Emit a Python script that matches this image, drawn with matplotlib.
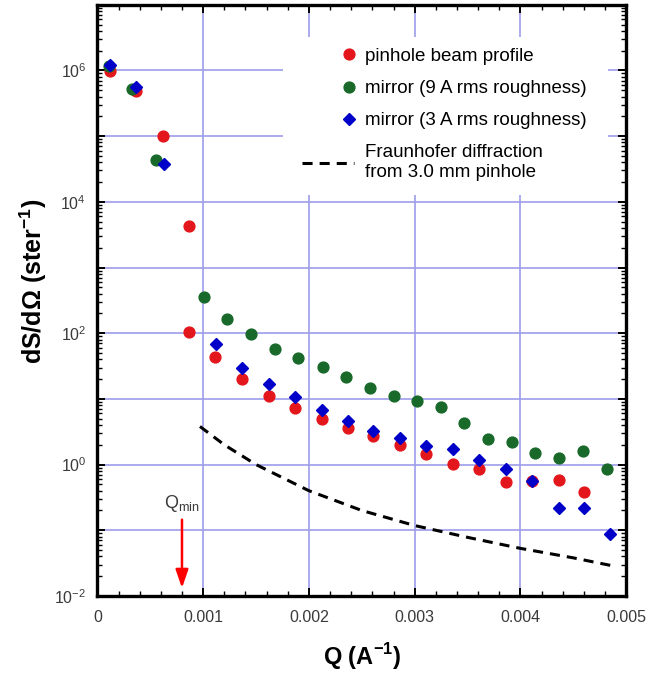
import numpy as np
import matplotlib
matplotlib.use("Agg")
import matplotlib.pyplot as plt
from matplotlib.ticker import LogLocator, MultipleLocator, FuncFormatter, NullFormatter
from matplotlib.legend_handler import HandlerLine2D
from matplotlib.patches import Rectangle

plt.rcParams['font.family'] = ['Liberation Sans', 'DejaVu Sans']

# pinhole beam profile (red circles)
q_pinhole = [0.000118, 0.00037, 0.000616, 0.000865, 0.000865, 0.001114, 0.00137,
             0.00162, 0.00187, 0.00212, 0.00237, 0.00261, 0.00286, 0.00311,
             0.00336, 0.00361, 0.00386, 0.00411, 0.00436, 0.0046]
s_pinhole = [0.99e6, 4.9e5, 1.0e5, 4.3e3, 105, 43, 20,
             11.2, 7.3, 4.9, 3.65, 2.75, 2.0, 1.45,
             1.02, 0.85, 0.54, 0.57, 0.59, 0.38]

# mirror, 9 A rms roughness (green circles)
q_mirror9 = [0.000112, 0.000323, 0.000553, 0.001007, 0.00123, 0.00145, 0.001678,
             0.0019, 0.00213, 0.00235, 0.00258, 0.0028, 0.00302, 0.00325,
             0.00347, 0.00369, 0.00392, 0.00414, 0.00436, 0.00459, 0.00482]
s_mirror9 = [1.18e6, 5.15e5, 4.4e4, 352, 164, 96, 57,
             41.5, 31, 21.8, 14.7, 11.1, 9.3, 7.45,
             4.35, 2.45, 2.2, 1.52, 1.26, 1.61, 0.86]

# mirror, 3 A rms roughness (blue diamonds)
q_mirror3 = [0.000124, 0.00037, 0.000629, 0.00112, 0.00137, 0.00162, 0.00187,
             0.00212, 0.00237, 0.00261, 0.00286, 0.00311, 0.00336, 0.00361,
             0.00386, 0.00411, 0.00436, 0.0046, 0.00485]
s_mirror3 = [1.2e6, 5.6e5, 3.76e4, 68, 30, 17, 10.7,
             6.7, 4.66, 3.3, 2.5, 1.95, 1.71, 1.16,
             0.86, 0.57, 0.216, 0.216, 0.087]

# Fraunhofer diffraction from 3.0 mm pinhole (dashed)
q_fraun = [0.00097, 0.0012, 0.0015, 0.002, 0.0025, 0.003, 0.0035, 0.004, 0.0045, 0.00486]
s_fraun = [3.8, 2.0, 1.0, 0.40, 0.20, 0.118, 0.078, 0.053, 0.038, 0.029]

q_min = 0.0008

labels = ['pinhole beam profile', 'mirror (9 A rms roughness)',
          'mirror (3 A rms roughness)', 'Fraunhofer diffraction\nfrom 3.0 mm pinhole']

RED = '#e3161c'
GREEN = '#18692a'
BLUE = '#0000c8'
GRID = '#9d9deb'
TICKTXT = '#3a3a3a'


class MarkerRight(HandlerLine2D):
    """legend handler that puts the single marker near the right end of the handle"""
    def get_xdata(self, legend, xdescent, ydescent, width, height, fontsize):
        right = -xdescent + width - 0.25 * fontsize
        off = 0.1 * fontsize
        return [right - off, right + off], [right]


fig = plt.figure(figsize=(6.49, 6.78), dpi=100)
ax = fig.add_axes([0.150, 0.121, 0.815, 0.872])

ax.set_yscale('log')
ax.set_xlim(0, 0.005)
ax.set_ylim(1e-2, 1e7)

ax.set_axisbelow(True)
ax.grid(True, which='major', color=GRID, lw=1.2)

# white box behind the legend hides the grid there
ax.add_patch(Rectangle((0.351, 0.678), 0.614, 0.268, transform=ax.transAxes,
                       facecolor='white', edgecolor='none', zorder=1))

h_fraun, = ax.plot(q_fraun, s_fraun, color='black', lw=2.2,
                   linestyle=(0, (3.3, 2.3)), zorder=2.5)
h_pin, = ax.plot(q_pinhole, s_pinhole, 'o', color=RED, ms=7.8, mec=RED, zorder=3)
h_m9, = ax.plot(q_mirror9, s_mirror9, 'o', color=GREEN, ms=7.8, mec=GREEN, zorder=3)
h_m3, = ax.plot(q_mirror3, s_mirror3, 'D', color=BLUE, ms=6.5, mec=BLUE, zorder=3.2)

# Q_min marker
ax.annotate('', xy=(q_min, 0.0132), xytext=(q_min, 0.145),
            arrowprops=dict(arrowstyle='-|>,head_length=1.1,head_width=0.38',
                            color='red', lw=1.8, shrinkA=0, shrinkB=0))
ax.text(q_min, 0.26, r'Q$_{\mathdefault{min}}$', ha='center', va='center',
        fontsize=13, color=TICKTXT)

# axes styling
for sp in ax.spines.values():
    sp.set_linewidth(2.4)
ax.xaxis.set_major_locator(MultipleLocator(0.001))
ax.xaxis.set_minor_locator(MultipleLocator(0.0002))
ax.xaxis.set_major_formatter(FuncFormatter(lambda v, p: '0' if abs(v) < 1e-9 else f'{v:.3f}'))
ax.yaxis.set_major_locator(LogLocator(base=10, numticks=20))
ax.yaxis.set_minor_locator(LogLocator(base=10, subs=np.arange(2, 10), numticks=20))
ax.yaxis.set_minor_formatter(NullFormatter())


def ylab(v, pos):
    e = int(round(np.log10(v)))
    if e % 2:
        return ''
    return r'$\mathdefault{10^{%d}}$' % e


ax.yaxis.set_major_formatter(FuncFormatter(ylab))
ax.tick_params(which='both', direction='in', top=True, right=True, colors='black',
               labelcolor=TICKTXT, labelsize=11.5)
ax.tick_params(which='major', length=6, width=1.4)
ax.tick_params(which='minor', length=3.5, width=1.0)
ax.tick_params(axis='x', pad=10)
ax.tick_params(axis='y', pad=8)

ax.set_xlabel(r'Q (A$^{\mathdefault{-1}}$)', fontsize=17, fontweight='bold', labelpad=12)
ax.set_ylabel(r'dS/dΩ (ster$^{\mathdefault{-1}}$)', fontsize=18, fontweight='bold')
ax.yaxis.set_label_coords(-0.092, 0.533)

marker_handler = MarkerRight()
ax.legend([h_pin, h_m9, h_m3, h_fraun], labels, loc='upper left',
          bbox_to_anchor=(0.386, 0.927), frameon=False, fontsize=13.5,
          handlelength=2.8, handletextpad=0.6, labelspacing=0.8,
          borderpad=0, borderaxespad=0,
          handler_map={h_pin: marker_handler, h_m9: marker_handler,
                       h_m3: marker_handler})

fig.savefig('out.png', dpi=100)
